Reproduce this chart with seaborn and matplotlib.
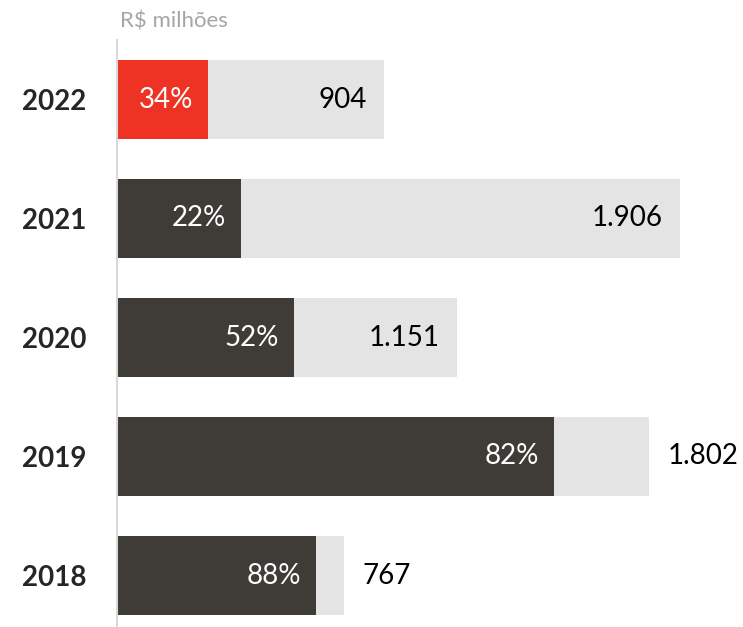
import pandas as pd
import matplotlib
matplotlib.use('Agg')
import matplotlib.pyplot as plt
import seaborn as sns

# dados do gráfico (R$ milhões)
anos = ['2022', '2021', '2020', '2019', '2018']
totais = [904, 1906, 1151, 1802, 767]
percentuais = [34, 22, 52, 82, 88]
rotulos_totais = ['904', '1.906', '1.151', '1.802', '767']
rotulo_dentro = [True, True, True, False, False]

cor_destaque = ['#EE3224', '#3F3B36', '#3F3B36', '#3F3B36', '#3F3B36']

sns.set_theme(style='white')
plt.rcParams['font.family'] = ['Lato', 'DejaVu Sans']

df = pd.DataFrame({'ano': anos, 'total': totais, 'pct': percentuais})
df['parte'] = df['total'] * df['pct'] / 100

fig = plt.figure(figsize=(7.43, 6.27), dpi=100)
ax = fig.add_axes([117 / 743, 0, 626 / 743, 587 / 627])

# barra total (cinza claro)
sns.barplot(data=df, x='total', y='ano', order=anos, color='#E4E4E4',
            width=0.664, saturation=1, linewidth=0, ax=ax)
# parcela percentual
sns.barplot(data=df, x='parte', y='ano', order=anos, hue='ano', hue_order=anos,
            palette=cor_destaque, width=0.664, saturation=1, linewidth=0,
            legend=False, ax=ax)

ax.set_xlim(0, 2119)
ax.set_ylim(-0.5 + 587 / 119, -0.5)

for i, row in df.iterrows():
    ax.annotate(f"{row['pct']}%", (row['parte'], i), xytext=(-10.8, 0),
                textcoords='offset points', ha='right', va='center',
                color='white', fontsize=20)
    if rotulo_dentro[i]:
        ax.annotate(rotulos_totais[i], (row['total'], i), xytext=(-12.2, 0),
                    textcoords='offset points', ha='right', va='center',
                    color='black', fontsize=20)
    else:
        ax.annotate(rotulos_totais[i], (row['total'], i), xytext=(13.3, 0),
                    textcoords='offset points', ha='left', va='center',
                    color='black', fontsize=20)

ax.set_xlabel('')
ax.set_ylabel('')
ax.set_xticks([])
ax.set_yticks(range(len(anos)))
ax.set_yticklabels(anos, fontsize=20, fontweight='bold', ha='left')
ax.tick_params(axis='y', length=0, pad=68.4)

for s in ['top', 'right', 'bottom']:
    ax.spines[s].set_visible(False)
ax.spines['left'].set_color('#D9D9D9')
ax.spines['left'].set_linewidth(1.5)

fig.text(120 / 743, 1 - 22 / 627, 'R$ milhões', color='#A6A6A6',
         fontsize=16, va='center', ha='left')

fig.savefig('out.png', dpi=100)
